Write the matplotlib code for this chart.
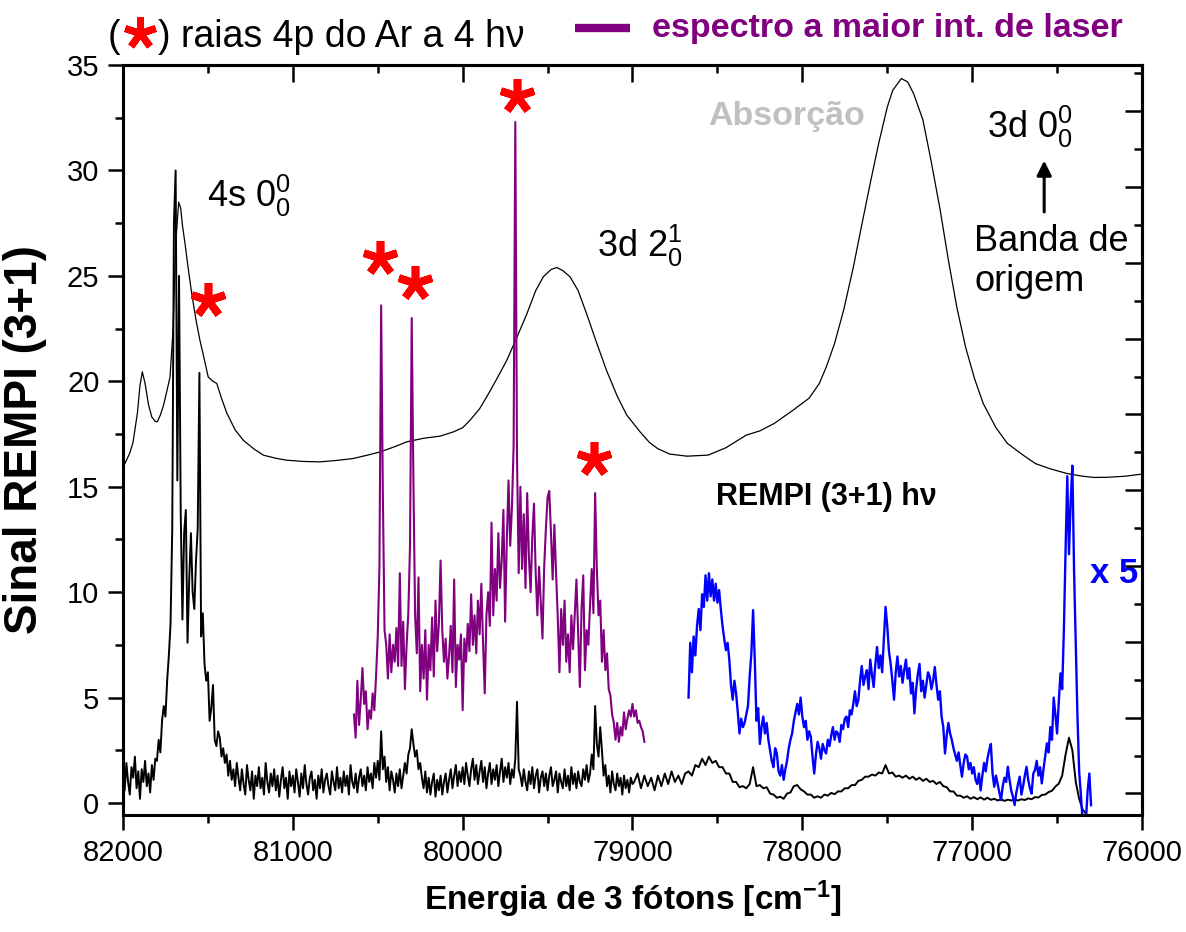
import numpy as np
import matplotlib
matplotlib.use('Agg')
import matplotlib.pyplot as plt
from matplotlib.ticker import MultipleLocator, NullFormatter

plt.rcParams['font.family'] = ['Liberation Sans', 'DejaVu Sans']
plt.rcParams['mathtext.fontset'] = 'custom'
plt.rcParams['mathtext.rm'] = 'Liberation Sans'
plt.rcParams['mathtext.it'] = 'Liberation Sans:italic'
plt.rcParams['mathtext.bf'] = 'Liberation Sans:bold'

# absorption spectrum (thin line), energy in cm-1
abs_x = [82000, 81960, 81941, 81915, 81900, 81886, 81870, 81850, 81830, 81810,
         81798, 81780, 81760, 81740, 81723, 81705, 81690, 81672, 81660, 81650,
         81635, 81615, 81596, 81570, 81547, 81520, 81498, 81470, 81448, 81420,
         81389, 81340, 81291, 81230, 81174, 81100, 81036, 80940, 80840, 80740,
         80644, 80560, 80487, 80400, 80329, 80230, 80133, 80055, 80000, 79956,
         79900, 79858, 79800, 79740, 79680, 79622, 79570, 79525, 79480, 79446,
         79410, 79368, 79320, 79270, 79210, 79152, 79090, 79034, 78955, 78900,
         78850, 78781, 78680, 78555, 78450, 78380, 78330, 78250, 78166, 78060,
         77960, 77900, 77858, 77810, 77756, 77700, 77653, 77600, 77550, 77500,
         77468, 77417, 77380, 77345, 77290, 77243, 77190, 77140, 77090, 77038,
         76985, 76935, 76860, 76792, 76700, 76628, 76540, 76443, 76350, 76280,
         76200, 76100, 76000]
abs_y = [15.9, 16.6, 17.1, 18.5, 19.8, 20.45, 19.9, 18.9, 18.3, 18.1,
         18.08, 18.4, 18.9, 19.6, 20.2, 22.5, 26.5, 28.5, 28.2, 27.4,
         26.55, 25.3, 24.2, 22.9, 21.95, 21.0, 20.2, 20.0, 19.9, 19.2,
         18.5, 17.7, 17.2, 16.8, 16.5, 16.35, 16.26, 16.2, 16.18, 16.25,
         16.34, 16.5, 16.65, 16.9, 17.13, 17.3, 17.4, 17.6, 17.8, 18.16,
         18.7, 19.27, 20.1, 21.0, 22.1, 23.2, 24.3, 24.96, 25.3, 25.4,
         25.25, 24.96, 24.3, 23.2, 21.8, 20.5, 19.3, 18.4, 17.6, 17.1,
         16.8, 16.55, 16.45, 16.5, 16.85, 17.2, 17.45, 17.65, 18.0, 18.6,
         19.2, 19.9, 20.7, 21.8, 23.4, 25.4, 27.3, 29.4, 31.3, 33.0,
         33.8, 34.36, 34.2, 33.65, 32.4, 30.5, 28.2, 25.75, 23.5, 21.6,
         20.1, 18.95, 17.8, 17.05, 16.5, 16.1, 15.85, 15.63, 15.5, 15.44,
         15.45, 15.5, 15.6]

# REMPI (3+1) signal, 82000 -> 79000 cm-1 in 10 cm-1 steps
rempi_hi = [1.3, 0.6, 1.9, 1.0, 0.4, 1.7, 1.2, 2.2, 0.7, 1.5,
            0.2, 1.6, 1.0, 2.0, 0.8, 1.4, 0.5, 1.8, 1.1, 2.1,
            2.0, 3.0, 2.4, 3.9, 4.6, 4.1, 5.8, 7.0, 8.5, 13.0,
            27.5, 30.0, 15.3, 25.0, 13.7, 8.7, 12.8, 13.9, 7.6, 10.6,
            12.8, 10.0, 9.2, 11.5, 13.0, 20.4, 7.9, 9.0, 6.6, 5.8,
            6.2, 3.9, 4.5, 5.6, 3.0, 2.7, 3.4, 3.1, 2.2, 2.6,
            1.9, 2.3, 1.3, 2.0, 1.1, 1.6, 0.8, 1.9, 1.2, 0.6,
            1.6, 0.9, 0.4, 1.8, 1.1, 0.6, 1.5, 0.2, 1.3, 0.8,
            1.7, 0.7, 1.2, 0.4, 1.9, 1.0, 0.5, 1.4, 0.8, 1.6,
            0.6, 1.3, 0.3, 1.1, 1.7, 0.7, 1.2, 0.2, 1.5, 0.8,
            1.3, 0.5, 1.6, 1.0, 0.3, 1.4, 0.7, 1.8, 0.9, 0.4,
            1.2, 1.5, 0.6, 1.1, 0.2, 1.3, 0.7, 1.6, 0.5, 1.1,
            1.4, 0.8, 0.4, 1.5, 1.0, 0.6, 1.7, 0.7, 1.2, 0.5,
            1.5, 0.8, 1.3, 0.4, 1.8, 1.0, 0.7, 1.4, 0.5, 1.2,
            1.6, 0.8, 1.3, 0.6, 1.7, 1.0, 1.4, 0.7, 1.9, 1.2,
            2.0, 1.1, 3.4, 1.6, 2.2, 1.0, 1.7, 0.6, 1.5, 1.1,
            0.5, 1.4, 0.8, 1.6, 0.7, 1.3, 1.9, 1.4, 2.3, 2.6,
            3.5, 2.8, 2.2, 2.5, 1.6, 1.9, 1.2, 0.7, 1.5, 0.5,
            1.2, 0.4, 1.0, 1.4, 0.3, 1.1, 0.6, 1.3, 0.4, 1.0,
            1.4, 0.5, 1.1, 1.6, 0.7, 1.3, 1.8, 0.8, 1.5, 1.0,
            1.7, 0.9, 1.9, 1.3, 0.8, 1.6, 2.1, 1.1, 1.8, 0.9,
            1.5, 2.0, 1.0, 1.7, 0.7, 1.4, 1.9, 0.9, 1.6, 1.1,
            1.8, 0.8, 1.5, 2.1, 1.0, 1.7, 1.2, 1.9, 0.9, 1.6,
            1.2, 2.1, 4.8, 1.6, 1.3, 0.8, 1.6, 1.0, 0.6, 1.5,
            0.9, 1.7, 0.7, 1.3, 1.6, 0.5, 1.2, 1.5, 0.8, 1.4,
            0.6, 1.3, 1.7, 0.8, 1.1, 1.5, 0.5, 1.4, 1.0, 0.7,
            1.6, 0.8, 1.3, 0.6, 1.7, 0.9, 1.4, 0.7, 1.5, 1.0,
            0.8, 1.6, 1.1, 1.8, 1.0, 1.4, 2.3, 1.6, 4.6, 2.8,
            2.2, 3.6, 2.5, 1.3, 1.8, 0.8, 1.3, 0.5, 1.5, 0.9,
            0.6, 1.4, 0.8, 1.2, 0.4, 1.3, 0.7, 1.1, 0.5, 1.2,
            0.9]

# REMPI (3+1) signal, 78990 -> 76330 cm-1 in 20 cm-1 steps
rempi_lo = [1.0, 1.4, 0.7, 1.3, 0.8, 1.2, 0.6, 1.3, 0.8, 1.4,
            0.9, 1.5, 1.0, 1.3, 0.9, 1.4, 1.5, 1.3, 1.8, 1.7,
            2.1, 1.8, 2.2, 1.9, 2.0, 1.7, 1.7, 1.4, 1.4, 1.0,
            1.0, 0.75, 0.8, 0.7, 0.9, 1.7, 0.8, 0.85, 0.7, 0.75,
            0.45, 0.4, 0.25, 0.3, 0.2, 0.45, 0.5, 0.8, 0.85, 0.65,
            0.55, 0.4, 0.4, 0.25, 0.32, 0.25, 0.4, 0.35, 0.48, 0.42,
            0.55, 0.55, 0.7, 0.7, 0.85, 0.85, 1.05, 1.1, 1.25, 1.25,
            1.35, 1.3, 1.45, 1.4, 1.8, 1.4, 1.45, 1.25, 1.3, 1.2,
            1.3, 1.15, 1.25, 1.1, 1.2, 1.05, 1.15, 1.0, 1.05, 0.9,
            1.0, 0.8, 0.75, 0.55, 0.55, 0.35, 0.35, 0.25, 0.32, 0.2,
            0.28, 0.18, 0.27, 0.16, 0.25, 0.15, 0.2, 0.12, 0.18, 0.1,
            0.16, 0.12, 0.17, 0.12, 0.18, 0.14, 0.22, 0.18, 0.28, 0.26,
            0.38, 0.4, 0.52, 0.58, 0.78, 0.92, 1.3, 2.3, 3.1, 2.5,
            1.0, 0.2, -0.3, -0.5]

# spectrum at higher laser intensity, 80640 -> 78930 cm-1, 10 cm-1 steps
laser_hi = [4.2, 3.1, 5.8, 3.7, 4.9, 6.4, 4.7, 5.3, 3.5, 4.4,
            4.0, 5.2, 4.4, 6.0, 7.9, 11.2, 23.6, 14.7, 8.2, 7.5,
            5.9, 8.0, 6.2, 7.5, 6.7, 8.3, 6.5, 10.9, 6.5, 8.6,
            5.4, 7.5, 9.0, 12.2, 23.0, 15.3, 8.9, 7.1, 10.7, 5.3,
            7.5, 5.9, 8.2, 4.9, 7.5, 6.3, 8.8, 6.0, 9.6, 7.2,
            8.5, 11.5, 8.2, 6.7, 7.8, 5.9, 7.0, 8.4, 6.2, 10.6,
            5.5, 7.5, 6.8, 8.0, 4.4, 7.8, 6.7, 8.5, 7.2, 9.9,
            7.5, 8.9, 7.1, 9.6, 8.0, 10.4, 7.6, 5.2, 8.9, 10.0,
            8.4, 13.3, 8.9, 11.1, 9.6, 12.8, 10.2, 11.5, 13.9, 8.6,
            12.5, 15.3, 12.2, 14.0, 16.9, 32.3, 16.4, 10.9, 15.0, 11.1,
            13.7, 10.2, 14.7, 11.7, 10.0, 12.6, 14.2, 10.9, 8.9, 11.2,
            9.5, 7.8, 11.2, 13.0, 14.5, 14.8, 12.8, 10.6, 13.2, 10.9,
            8.8, 6.2, 9.2, 7.5, 9.6, 6.7, 8.0, 6.2, 8.9, 7.3,
            9.0, 10.6, 8.0, 5.5, 9.2, 10.8, 6.3, 8.2, 7.5, 9.4,
            11.1, 9.0, 14.7, 11.1, 8.9, 9.6, 6.7, 8.2, 6.3, 7.1,
            5.4, 5.1, 4.2, 3.8, 3.0, 3.8, 2.9, 3.6, 3.2, 4.3,
            3.5, 4.0, 4.4, 4.1, 4.7, 4.1, 4.4, 3.8, 3.9, 3.6,
            3.4, 2.9]

# REMPI x 5, 78670 -> 76300 cm-1, 10 cm-1 steps
rempi_x5 = [5.0, 7.6, 6.2, 7.9, 7.0, 8.4, 9.2, 8.2, 9.9, 9.3,
            10.8, 9.6, 10.9, 9.8, 10.6, 9.6, 10.4, 9.5, 10.1, 9.2,
            8.4, 7.8, 7.25, 7.6, 6.8, 5.6, 4.9, 5.8, 5.2, 4.3,
            3.3, 4.0, 3.6, 3.8, 4.2, 4.6, 6.0, 7.1, 9.15, 6.8,
            3.9, 4.5, 2.8, 3.6, 4.1, 3.3, 3.8, 3.0, 2.5, 2.0,
            1.7, 2.6, 2.35, 1.5, 1.3, 1.8, 1.1, 1.6, 2.0, 2.6,
            3.0, 3.3, 3.9, 4.3, 4.7, 4.2, 5.0, 4.1, 3.6, 3.9,
            3.0, 3.4, 3.15, 2.2, 1.4, 2.3, 2.9, 2.6, 2.1, 2.8,
            2.5, 2.35, 3.0, 2.7, 3.2, 3.6, 3.0, 3.4, 3.3, 2.9,
            3.7, 3.5, 4.0, 4.1, 3.6, 4.4, 4.2, 4.7, 5.3, 4.6,
            4.9, 5.8, 6.5, 5.6, 6.0, 6.3, 5.4, 6.8, 6.1, 5.5,
            6.6, 7.4, 6.4, 7.0, 6.2, 7.8, 9.3, 8.4, 7.2, 6.6,
            5.8, 4.9, 6.2, 6.95, 6.0, 6.5, 5.7, 6.3, 6.8, 5.9,
            6.4, 5.2, 5.7, 4.25, 5.4, 6.1, 6.6, 5.3, 5.8, 5.0,
            5.6, 6.2, 6.0, 5.4, 5.8, 6.45, 5.6, 4.9, 5.3, 4.1,
            3.6, 2.35, 3.2, 3.8, 3.3, 3.0, 2.6, 2.3, 2.0, 2.4,
            1.8, 1.25, 1.9, 2.3, 2.2, 1.6, 1.9, 1.4, 1.7, 1.1,
            0.9, 1.4, 0.6, 1.3, 1.9, 1.5, 2.1, 2.5, 2.8, 1.4,
            0.77, 1.3, 0.9, 0.5, 0.14, 0.8, 1.2, 1.0, 1.72, 1.1,
            0.6, 0.3, -0.1, 0.5, 0.9, 1.25, 0.4, 0.8, 1.3, 1.72,
            1.1, 0.7, 0.45, 1.4, 1.56, 2.0, 1.3, 1.7, 0.93, 1.6,
            2.2, 2.83, 2.4, 3.6, 3.0, 5.0, 4.2, 3.3, 4.8, 6.15,
            5.4, 8.2, 12.0, 15.5, 11.8, 14.3, 16.0, 11.0, 7.6, 4.1,
            1.5, 0.4, -0.8, -0.8, -0.8, 0.6, 1.4, -0.1]

# Ar 4p lines seen at 4 photons (red asterisks)
star_x = [81498, 80487, 80280, 79681, 79228]
star_y = [23.85, 25.83, 24.64, 33.52, 16.31]

x_hi = 82000 - 10 * np.arange(len(rempi_hi))
x_lo = 78990 - 20 * np.arange(len(rempi_lo))
x_laser = 80640 - 10 * np.arange(len(laser_hi))
x_x5 = 78670 - 10 * np.arange(len(rempi_x5))

fig = plt.figure(figsize=(11.86, 9.32), dpi=100)
ax = fig.add_axes([0.1037, 0.1255, 0.8592, 0.8047])

ax.plot(abs_x, abs_y, color='black', lw=0.9)
ax.plot(np.concatenate([x_hi, x_lo]), np.concatenate([rempi_hi, rempi_lo]),
        color='black', lw=1.4)
ax.plot(x_laser, laser_hi, color='#800080', lw=1.5)
ax.plot(x_x5, rempi_x5, color='#0000ff', lw=1.7)

star = (5, 2, 0)
ax.plot(star_x, star_y, ls='none', marker=star, ms=25, mew=5.5,
        mec='#ff0000', mfc='#ff0000')

ax.set_xlim(82000, 76000)
ax.set_ylim(-0.57, 35)
ax.xaxis.set_major_locator(MultipleLocator(1000))
ax.xaxis.set_minor_locator(MultipleLocator(500))
ax.yaxis.set_major_locator(MultipleLocator(5))
ax.yaxis.set_minor_locator(MultipleLocator(2.5))
ax.tick_params(which='major', direction='out', length=11, width=1.8,
               labelsize=21, pad=6)
ax.tick_params(which='minor', direction='out', length=6, width=1.8)
for s in ax.spines.values():
    s.set_linewidth(2.2)

# mirrored axes with inward ticks
top = ax.secondary_xaxis('top')
top.xaxis.set_major_locator(MultipleLocator(1000))
top.xaxis.set_minor_locator(MultipleLocator(500))
top.xaxis.set_major_formatter(NullFormatter())
top.tick_params(which='major', direction='in', length=12, width=1.8)
top.tick_params(which='minor', direction='in', length=6, width=1.8)
top.spines['top'].set_linewidth(2.2)

right = ax.twinx()
right.set_ylim(-0.57, 19.22)
right.yaxis.set_major_locator(MultipleLocator(2))
right.yaxis.set_minor_locator(MultipleLocator(1))
right.yaxis.set_major_formatter(NullFormatter())
right.tick_params(which='major', direction='in', length=12, width=1.8)
right.tick_params(which='minor', direction='in', length=6, width=1.8)
right.spines['right'].set_linewidth(2.2)

ax.set_xlabel(r'Energia de 3 fótons [cm$^{\mathbf{-1}}$]', fontsize=24,
              fontweight='bold')
ax.xaxis.set_label_coords(0.5, -0.085)
ax.set_ylabel('Sinal REMPI (3+1)', fontsize=33, fontweight='bold')
ax.yaxis.set_label_coords(-0.075, 0.5)

# annotations
ax.text(81505, 28.26, r'4s $\mathregular{0^0_0}$', fontsize=26)
ax.text(79209, 25.9, r'3d $\mathregular{2^1_0}$', fontsize=26)
ax.text(78555, 32.15, 'Absorção', fontsize=24.5, fontweight='bold',
        color='#c0c0c0')
ax.text(76915, 31.56, r'3d $\mathregular{0^0_0}$', fontsize=26)
ax.annotate('', xy=(76576, 30.6), xytext=(76576, 27.9),
            arrowprops=dict(arrowstyle='-|>', color='black', lw=2.2,
                            mutation_scale=22))
ax.text(76987, 26.2, 'Banda de', fontsize=26)
ax.text(76987, 24.3, 'origem', fontsize=26)
ax.text(78508, 14.13, 'REMPI (3+1) h\u03bd', fontsize=22, fontweight='bold')
ax.text(76305, 10.43, 'x 5', fontsize=25, fontweight='bold', color='#0000ff')

# header legend
ax.text(-0.0147, 1.024, '(', transform=ax.transAxes, fontsize=27)
ax.plot([0.0167], [1.0427], transform=ax.transAxes, marker=star, ms=23,
        mew=5, mec='#ff0000', mfc='#ff0000', clip_on=False)
ax.text(0.0343, 1.024, ') raias 4p do Ar a 4 h\u03bd', transform=ax.transAxes,
        fontsize=27)
ax.plot([0.4436, 0.4975], [1.049, 1.049], transform=ax.transAxes,
        color='#800080', lw=6, clip_on=False, solid_capstyle='butt')
ax.text(0.519, 1.037, 'espectro a maior int. de laser', transform=ax.transAxes,
        fontsize=24.5, fontweight='bold', color='#800080')

fig.savefig('out.png', dpi=100)
